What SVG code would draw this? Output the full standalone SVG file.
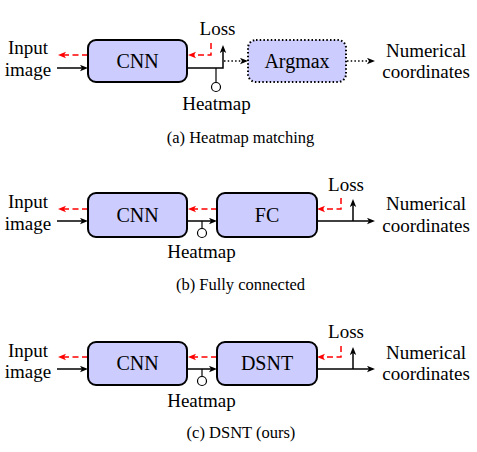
<svg xmlns="http://www.w3.org/2000/svg" width="477" height="452" viewBox="0 0 477 452">
<defs>
<marker id="ah" markerWidth="10" markerHeight="8" refX="4" refY="3.5" orient="auto" markerUnits="userSpaceOnUse"><path d="M0,0.3 L8,3.5 L0,6.7 L2,3.5 Z" fill="#000"/></marker>
<marker id="ahr" markerWidth="10" markerHeight="8" refX="4" refY="3.5" orient="auto" markerUnits="userSpaceOnUse"><path d="M0,0.3 L8,3.5 L0,6.7 L2,3.5 Z" fill="#ff0000"/></marker>
</defs>
<style>
text{font-family:"Liberation Serif","Times New Roman",serif;fill:#000}
.lbl{font-size:19px;text-anchor:middle}
.nt{font-size:20px;text-anchor:middle}
.cap{font-size:16.5px;text-anchor:middle}
.box{fill:#ccccff;stroke:#000;stroke-width:2}
.dbox{fill:#ccccff;stroke:#000;stroke-width:2;stroke-dasharray:1.5,2.2}
.k{fill:none;stroke:#000;stroke-width:1.5;marker-end:url(#ah)}
.kd{fill:none;stroke:#000;stroke-width:1.5;stroke-dasharray:1.5,2.2;marker-end:url(#ah)}
.r{fill:none;stroke:#ff0000;stroke-width:1.5;stroke-dasharray:6,3.5;marker-end:url(#ahr)}
.st{fill:none;stroke:#000;stroke-width:1.2}
.c{fill:#fff;stroke:#000;stroke-width:1.2}
</style>
<rect width="477" height="452" fill="#fff"/>

<g id="connectors">
<!-- panel a -->
<path class="k" d="M57,68 H84"/>
<path class="r" d="M88,55 H62"/>
<path class="r" d="M211,43 V55 H192"/>
<path class="k" d="M187,68 H223 V49"/>
<path class="st" d="M216,68 V82.5"/>
<circle class="c" cx="216" cy="87" r="4.5"/>
<path class="kd" d="M224,61 H244"/>
<path class="kd" d="M347,61 H371"/>
<!-- panel b -->
<path class="k" d="M57,221 H84"/>
<path class="r" d="M88,209 H62"/>
<path class="k" d="M187,221 H213"/>
<path class="st" d="M202,221 V228.5"/>
<circle class="c" cx="202" cy="233" r="4.5"/>
<path class="r" d="M217,209 H192"/>
<path class="k" d="M317,221 H371"/>
<path class="k" d="M353,221 V203"/>
<path class="r" d="M341,198 V209 H321"/>
<!-- panel c -->
<path class="k" d="M57,369 H84"/>
<path class="r" d="M88,357 H62"/>
<path class="k" d="M187,369 H213"/>
<path class="st" d="M202,369 V376.5"/>
<circle class="c" cx="202" cy="381" r="4.5"/>
<path class="r" d="M217,357 H192"/>
<path class="k" d="M317,369 H371"/>
<path class="k" d="M353,369 V351"/>
<path class="r" d="M341,346 V357 H321"/>
</g>

<g id="cnn-a"><rect class="box" x="88" y="40" width="99" height="42" rx="8"/><text class="nt" x="137.5" y="68">CNN</text></g>
<g id="argmax-a"><rect class="dbox" x="248" y="40" width="98" height="42" rx="8"/><text class="nt" x="297" y="68">Argmax</text></g>
<g id="cnn-b"><rect class="box" x="88" y="193" width="99" height="44" rx="8"/><text class="nt" x="137.5" y="222">CNN</text></g>
<g id="fc-b"><rect class="box" x="217" y="193" width="100" height="44" rx="8"/><text class="nt" x="267" y="222">FC</text></g>
<g id="cnn-c"><rect class="box" x="88" y="342" width="99" height="43" rx="8"/><text class="nt" x="137.5" y="370">CNN</text></g>
<g id="dsnt-c"><rect class="box" x="217" y="342" width="100" height="43" rx="8"/><text class="nt" x="267" y="370">DSNT</text></g>

<g id="labels">
<text class="lbl" x="28" y="54">Input</text><text class="lbl" x="28" y="76">image</text>
<text class="lbl" x="217.5" y="35">Loss</text>
<text class="lbl" x="216.5" y="110">Heatmap</text>
<text class="lbl" x="426" y="57">Numerical</text><text class="lbl" x="426" y="78">coordinates</text>
<text class="cap" x="240.5" y="143">(a) Heatmap matching</text>

<text class="lbl" x="28" y="208">Input</text><text class="lbl" x="28" y="230">image</text>
<text class="lbl" x="346" y="191">Loss</text>
<text class="lbl" x="201.5" y="258">Heatmap</text>
<text class="lbl" x="426" y="210">Numerical</text><text class="lbl" x="426" y="232">coordinates</text>
<text class="cap" x="240.5" y="290">(b) Fully connected</text>

<text class="lbl" x="28" y="357">Input</text><text class="lbl" x="28" y="378">image</text>
<text class="lbl" x="346" y="338">Loss</text>
<text class="lbl" x="201.5" y="407">Heatmap</text>
<text class="lbl" x="426" y="359">Numerical</text><text class="lbl" x="426" y="380">coordinates</text>
<text class="cap" x="241" y="438">(c) DSNT (ours)</text>
</g>
</svg>
